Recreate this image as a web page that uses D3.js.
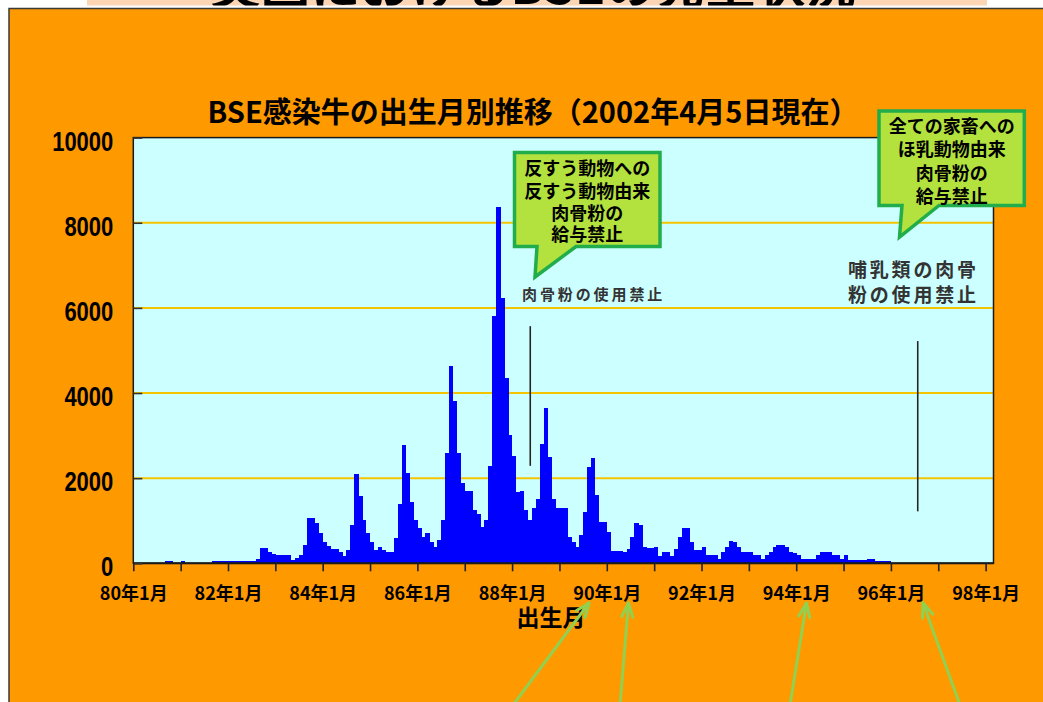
<!DOCTYPE html>
<html>
<head>
<meta charset="utf-8">
<script src="https://cdn.jsdelivr.net/npm/d3@7"></script>
<style>
  html, body { margin: 0; padding: 0; background: #fff; overflow: hidden; }
  svg { display: block; }
</style>
</head>
<body>
<svg id="chart" width="1043" height="702"></svg>
<script>
// BSE confirmed cases by month of birth, Jan 1980 – Dec 1995 (one value per month)
const startYear = 1980;
const monthlyCases = [
  0, 0, 0, 0, 0, 0, 0, 0, 60, 60, 0, 0,                                  // 1980
  60, 0, 0, 0, 0, 0, 0, 0, 50, 50, 50, 50,                               // 1981
  50, 50, 50, 50, 50, 50, 60, 108, 352, 352, 258, 218,                   // 1982
  188, 188, 188, 188, 78, 133, 188, 423, 1057, 1057, 940, 705,           // 1983
  493, 414, 344, 344, 266, 180, 305, 900, 2098, 1581, 1017, 704,         // 1984
  508, 313, 375, 313, 274, 274, 586, 1385, 2770, 2130, 1448, 1017,       // 1985
  822, 626, 704, 508, 391, 550, 1017, 2584, 4635, 3812, 2584, 1893,      // 1986
  1698, 1698, 1252, 1151, 862, 1017, 2286, 5808, 8377, 6225, 4346, 3014, // 1987
  2528, 1682, 1698, 1252, 1017, 1291, 1502, 2802, 3656, 2505, 1502, 1291,// 1988
  1291, 1291, 626, 508, 391, 665, 1213, 2270, 2466, 1600, 978, 978,      // 1989
  743, 297, 297, 297, 258, 336, 626, 939, 900, 391, 368, 368,            // 1990
  391, 180, 258, 258, 180, 344, 626, 821, 821, 509, 305, 305,            // 1991
  383, 188, 188, 188, 108, 258, 391, 532, 501, 391, 258, 258,            // 1992
  258, 188, 188, 108, 188, 266, 391, 423, 423, 391, 266, 235,            // 1993
  188, 108, 108, 108, 108, 188, 266, 266, 266, 188, 188, 108,            // 1994
  188, 70, 70, 70, 70, 70, 108, 108, 60, 60, 60, 60                      // 1995
];

// Axis ticks
const yTickValues = [0, 2000, 4000, 6000, 8000, 10000];
const yearTickMonths = d3.range(0, 217, 12);
const xLabelMonths = [0, 24, 48, 72, 96, 120, 144, 168, 192, 216];
const xTickLabels = ["80年1月", "82年1月", "84年1月", "86年1月", "88年1月",
                     "90年1月", "92年1月", "94年1月", "96年1月", "98年1月"];

// Feed-ban markers (month index from Jan 1980, vertical extent in cases)
const banMonths = [100.6, 198.8];
const banLow = [2290, 1220];
const banHigh = [5570, 5220];

const pageTitle = "英国におけるBSEの発生状況";
const chartTitle = "BSE感染牛の出生月別推移（2002年4月5日現在）";
const xAxisTitle = "出生月";

const JP = "'Noto Sans CJK JP', 'Noto Sans CJK SC', sans-serif";
const ORANGE = "#ff9900";
const PLOT_BG = "#ccffff";
const BAR_BLUE = "#0000ff";
const GRID = "#f4c400";
const BOX_FILL = "#b3e13d";
const BOX_EDGE = "#22ad4c";
const ARROW = "#92d050";

const svg = d3.select("#chart");

// ---- page header strip (partly cut off at the top) ----
const defs = svg.append("defs");
defs.append("clipPath").attr("id", "headerClip")
  .append("rect").attr("x", 0).attr("y", 0).attr("width", 1043).attr("height", 5.5);

svg.append("rect").attr("x", 87).attr("y", 0).attr("width", 900).attr("height", 5.5)
  .attr("fill", "#fcd5b5");
svg.append("g").attr("clip-path", "url(#headerClip)")
  .append("text")
  .attr("x", 533).attr("y", 4)
  .attr("text-anchor", "middle")
  .attr("font-family", JP).attr("font-weight", "bold").attr("font-size", 50)
  .attr("fill", "#000")
  .text(pageTitle);

// ---- orange panel ----
svg.append("rect")
  .attr("x", 9).attr("y", 8.5).attr("width", 1050).attr("height", 720)
  .attr("fill", ORANGE).attr("stroke", "#3a3a3a").attr("stroke-width", 1.5);

// ---- plot area ----
const x = d3.scaleLinear().domain([0, 218]).range([133.3, 993.5]);
const y = d3.scaleLinear().domain([0, 10000]).range([563.3, 137.6]);

svg.append("rect")
  .attr("x", x(0)).attr("y", y(10000))
  .attr("width", x(218) - x(0)).attr("height", y(0) - y(10000))
  .attr("fill", PLOT_BG);

// horizontal gridlines
svg.append("g").selectAll("line")
  .data(yTickValues.filter(v => v > 0 && v < 10000))
  .join("line")
  .attr("x1", x(0)).attr("x2", x(218))
  .attr("y1", d => y(d)).attr("y2", d => y(d))
  .attr("stroke", GRID).attr("stroke-width", 2);

// monthly bars
svg.append("g").selectAll("rect")
  .data(monthlyCases.map((v, i) => ({ month: i, value: v })).filter(d => d.value > 0))
  .join("rect")
  .attr("x", d => x(d.month))
  .attr("width", d => x(d.month + 1) - x(d.month) + 0.35)
  .attr("y", d => y(d.value))
  .attr("height", d => y(0) - y(d.value))
  .attr("fill", BAR_BLUE)
  .attr("shape-rendering", "crispEdges");

// feed-ban vertical markers
svg.append("g").selectAll("line")
  .data(banMonths.map((m, i) => ({ month: m, low: banLow[i], high: banHigh[i] })))
  .join("line")
  .attr("x1", d => x(d.month)).attr("x2", d => x(d.month))
  .attr("y1", d => y(d.high)).attr("y2", d => y(d.low))
  .attr("stroke", "#262626").attr("stroke-width", 1.6);

// plot frame
svg.append("rect")
  .attr("x", x(0)).attr("y", y(10000))
  .attr("width", x(218) - x(0)).attr("height", y(0) - y(10000))
  .attr("fill", "none").attr("stroke", "#1a1a1a").attr("stroke-width", 1.5);
svg.append("line")
  .attr("x1", x(0)).attr("x2", x(218)).attr("y1", y(0)).attr("y2", y(0))
  .attr("stroke", "#1a1a1a").attr("stroke-width", 2);

// y axis: short inner ticks + stretched bold labels
const yAxis = d3.axisLeft(y)
  .tickValues(yTickValues)
  .tickSizeInner(-9).tickSizeOuter(0).tickPadding(20)
  .tickFormat(d3.format("d"));
const gy = svg.append("g").attr("transform", `translate(${x(0)},0)`).call(yAxis);
gy.select(".domain").remove();
gy.selectAll(".tick line").attr("stroke", "#333").attr("stroke-width", 1.6);
gy.selectAll(".tick text")
  .attr("dy", null)
  .attr("dominant-baseline", "central")
  .attr("transform", "translate(0,2.5) scale(1,1.25)")
  .attr("font-family", "'Liberation Sans', Arial, sans-serif")
  .attr("font-weight", "bold").attr("font-size", 22).attr("fill", "#000");

// x axis: yearly ticks, labels every two years
const xAxis = d3.axisBottom(x)
  .tickValues(yearTickMonths)
  .tickSizeInner(8).tickSizeOuter(0)
  .tickFormat(m => {
    const k = xLabelMonths.indexOf(m);
    return k >= 0 ? xTickLabels[k] : "";
  });
const gx = svg.append("g").attr("transform", `translate(0,${y(0)})`).call(xAxis);
gx.select(".domain").remove();
gx.selectAll(".tick line").attr("stroke", "#222").attr("stroke-width", 1.6);
gx.selectAll(".tick text")
  .attr("y", 29).attr("dy", null)
  .attr("dominant-baseline", "central")
  .attr("font-family", JP).attr("font-weight", "bold").attr("font-size", 18)
  .attr("fill", "#000");

// titles
svg.append("text")
  .attr("x", 533).attr("y", 109.5)
  .attr("text-anchor", "middle").attr("dominant-baseline", "central")
  .attr("font-family", JP).attr("font-weight", "bold").attr("font-size", 29)
  .attr("fill", "#000")
  .text(chartTitle);

svg.append("text")
  .attr("x", 551).attr("y", 616)
  .attr("text-anchor", "middle").attr("dominant-baseline", "central")
  .attr("font-family", JP).attr("font-weight", "bold").attr("font-size", 23)
  .attr("fill", "#000")
  .text(xAxisTitle);

// in-plot notes (multi-line notes share one text element)
function note(tx, lines, ys, size, spacing) {
  const t = svg.append("text")
    .attr("font-family", JP).attr("font-size", size).attr("font-weight", "bold")
    .attr("letter-spacing", spacing)
    .attr("fill", "#333");
  lines.forEach((ln, i) => {
    t.append("tspan").attr("x", tx).attr("y", ys[i])
      .attr("dominant-baseline", "central").text(ln);
  });
}
note(522, ["肉骨粉の使用禁止"], [293.5], 15, 2.9);
note(848, ["哺乳類の肉骨", "粉の使用禁止"], [268, 293], 19, 2.8);

// speech-bubble callouts
const callouts = [
  { x0: 514.5, y0: 152.5, x1: 660, y1: 246.5, baseL: 537, baseR: 576, tipX: 535, tipY: 277,
    lines: ["反すう動物への", "反すう動物由来", "肉骨粉の", "給与禁止"],
    lineY: [166.5, 189.5, 211.5, 233] },
  { x0: 879, y0: 111, x1: 1024.3, y1: 205.5, baseL: 902, baseR: 939, tipX: 899.5, tipY: 237,
    lines: ["全ての家畜への", "ほ乳動物由来", "肉骨粉の", "給与禁止"],
    lineY: [124.5, 148, 172, 195] }
];
callouts.forEach(c => {
  const p = d3.path();
  p.moveTo(c.x0, c.y0);
  p.lineTo(c.x1, c.y0);
  p.lineTo(c.x1, c.y1);
  p.lineTo(c.baseR, c.y1);
  p.lineTo(c.tipX, c.tipY);
  p.lineTo(c.baseL, c.y1);
  p.lineTo(c.x0, c.y1);
  p.closePath();
  svg.append("path").attr("d", p.toString())
    .attr("fill", BOX_FILL).attr("stroke", BOX_EDGE).attr("stroke-width", 3.5)
    .attr("stroke-linejoin", "miter");
  const cx = (c.x0 + c.x1) / 2;
  const t = svg.append("text")
    .attr("text-anchor", "middle")
    .attr("font-family", JP).attr("font-weight", "bold").attr("font-size", 18)
    .attr("fill", "#000");
  c.lines.forEach((ln, i) => {
    t.append("tspan").attr("x", cx).attr("y", c.lineY[i])
      .attr("dominant-baseline", "central").text(ln);
  });
});

// green pointer arrows up to the axis dates
const arrows = [
  [513, 705, 589, 603],
  [620, 705, 628.5, 603],
  [790, 705, 806.5, 603],
  [960, 705, 923, 603]
];
const ga = svg.append("g").attr("stroke", ARROW).attr("stroke-width", 3)
  .attr("fill", "none").attr("stroke-linecap", "round");
arrows.forEach(([sx, sy, ex, ey]) => {
  ga.append("line").attr("x1", sx).attr("y1", sy).attr("x2", ex).attr("y2", ey);
  const ang = Math.atan2(sy - ey, sx - ex);
  const len = 15, spread = 0.38;
  const a1 = ang + spread, a2 = ang - spread;
  ga.append("path")
    .attr("d", `M${ex + len * Math.cos(a1)},${ey + len * Math.sin(a1)} L${ex},${ey} L${ex + len * Math.cos(a2)},${ey + len * Math.sin(a2)}`)
    .attr("stroke-linejoin", "round");
});
</script>
</body>
</html>
